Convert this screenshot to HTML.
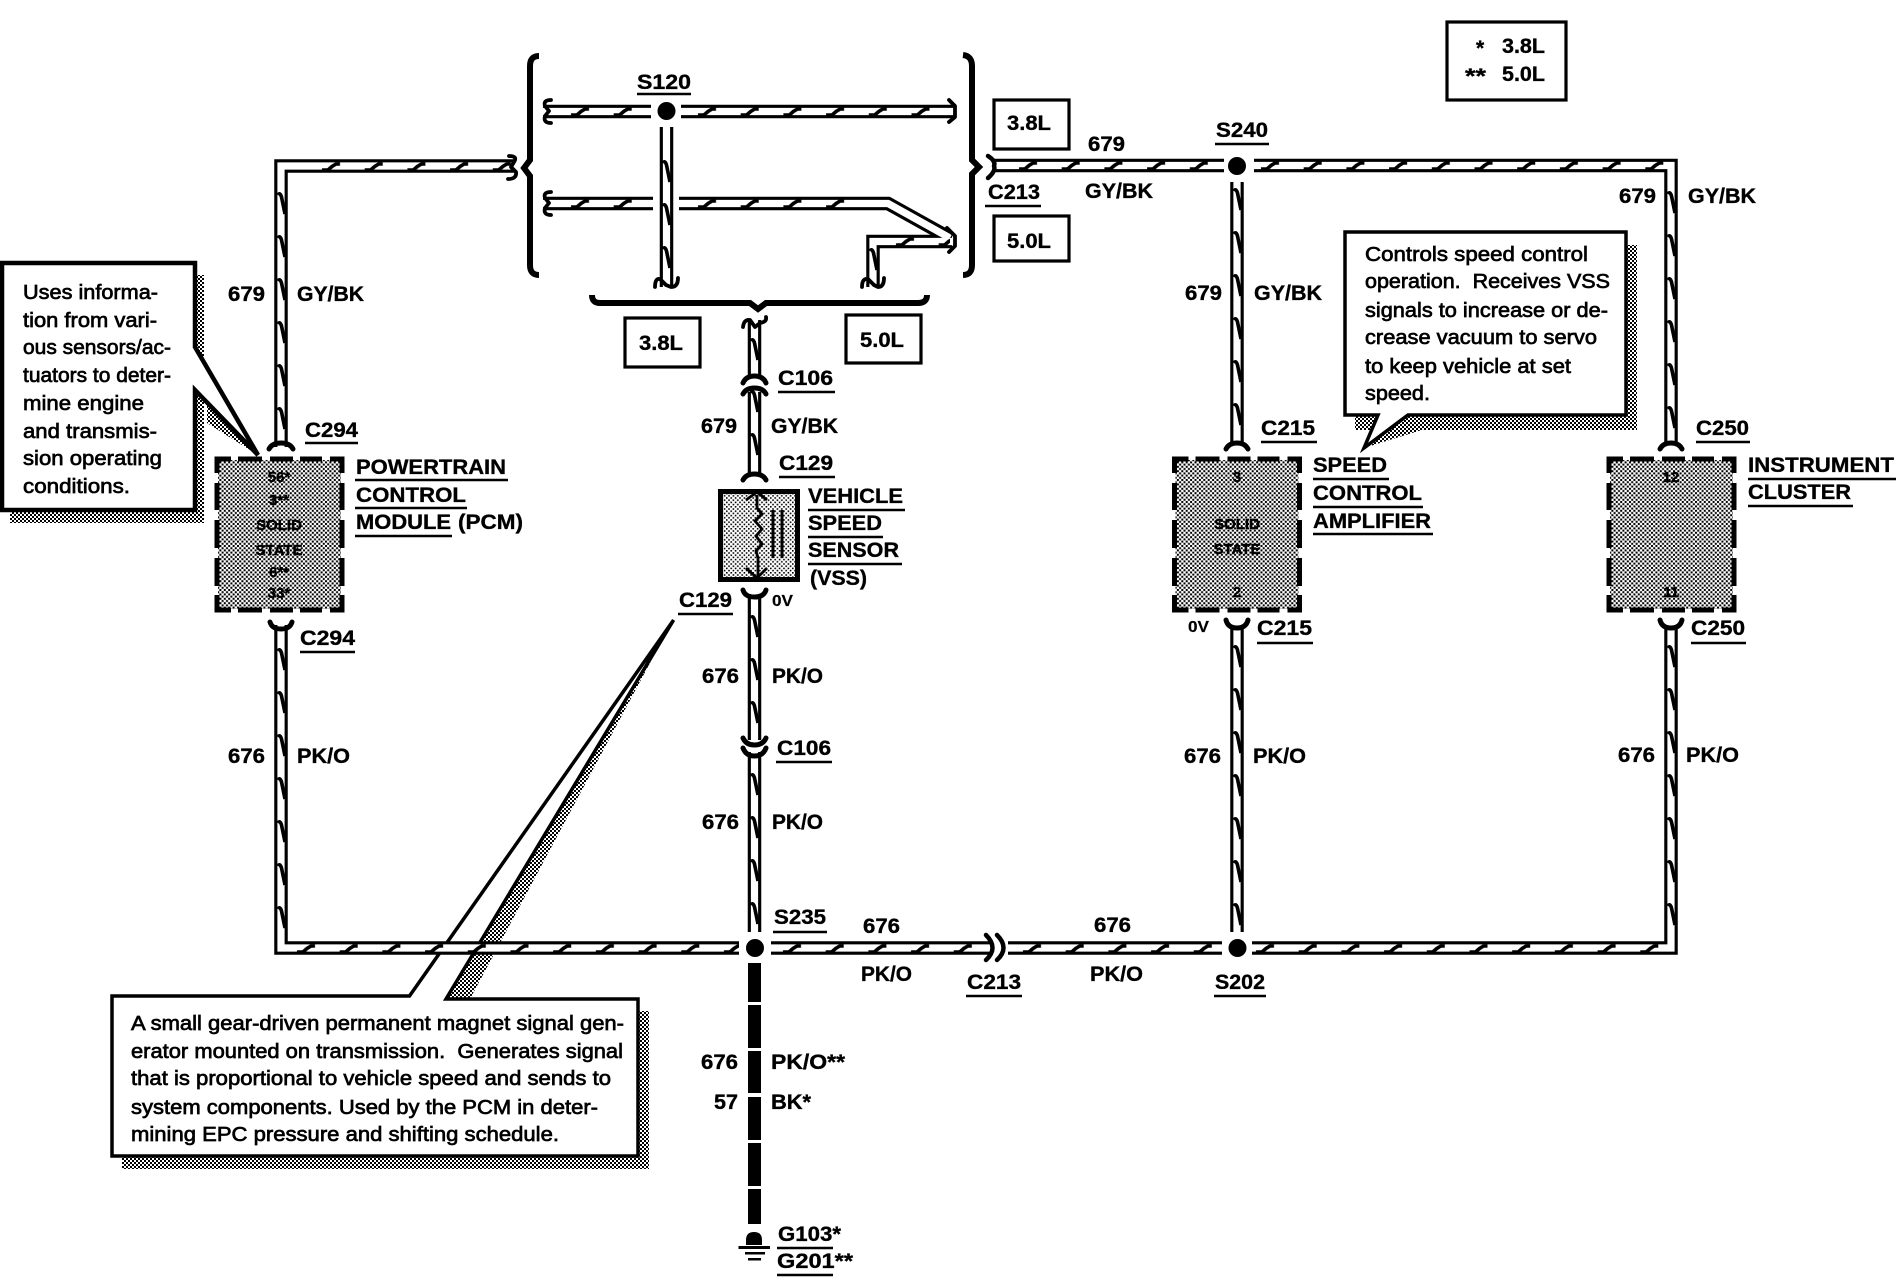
<!DOCTYPE html>
<html><head><meta charset="utf-8"><title>Speed control wiring</title>
<style>
html,body{margin:0;padding:0;background:#fff}
svg{display:block}
text{font-family:"Liberation Sans",sans-serif;fill:#000}
.b{font-weight:bold;font-size:21px;stroke:#000;stroke-width:.35}
.n{font-size:20.5px;stroke:#000;stroke-width:.7}
.s{font-weight:bold;font-size:15px;text-anchor:middle;fill:#000;stroke:#000;stroke-width:.4}
.wo{fill:none;stroke:#000;stroke-width:13.5;stroke-miterlimit:10}
.wi{fill:none;stroke:#fff;stroke-width:7.2;stroke-miterlimit:10}
.l{fill:none;stroke:#000;stroke-width:3.8;stroke-linecap:round;stroke-linejoin:round}
</style></head><body>
<svg xmlns="http://www.w3.org/2000/svg" width="1898" height="1280" viewBox="0 0 1898 1280">
<defs>
<pattern id="st" width="4" height="4" patternUnits="userSpaceOnUse"><rect width="2" height="2"/><rect x="2" y="2" width="2" height="2"/></pattern>
<pattern id="bx" width="4.4" height="4.4" patternUnits="userSpaceOnUse"><rect width="2" height="2"/><rect x="2.2" y="2.2" width="2" height="2"/></pattern>
<pattern id="lt" width="4.4" height="4.4" patternUnits="userSpaceOnUse"><rect width="1.6" height="1.6"/><rect x="2.2" y="2.2" width="1.6" height="1.6"/></pattern>
<pattern id="ph" width="42.7" height="11" patternUnits="userSpaceOnUse"><path d="M12,9 H18 L22,5.5 L26,3 H30" fill="none" stroke="#000" stroke-width="3.6"/></pattern>
<pattern id="pv" width="11" height="43" patternUnits="userSpaceOnUse"><path d="M2,12 Q4,9 5.5,14 L9,31" fill="none" stroke="#000" stroke-width="3.6"/></pattern>
<g id="box">
<rect x="3" y="3" width="123" height="149" fill="#fff"/>
<rect x="3" y="3" width="123" height="149" fill="url(#bx)"/>
<path d="M2,16 V2 H16 M23,2 H47 M55,2 H78 M85,2 H107 M115,2 H127 V16 M2,138 V153 H16 M23,153 H47 M55,153 H78 M85,153 H107 M115,153 H127 V138 M2,26 V53 M2,63 V91 M2,101 V129 M127,26 V53 M127,63 V91 M127,101 V129" fill="none" stroke="#000" stroke-width="5"/>
</g>
</defs>

<!-- callout shadows -->
<g fill="url(#st)">
<rect x="195" y="275" width="9" height="248"/><rect x="10" y="510" width="194" height="13"/>
<polygon points="195,390 258,455 207,423 207,400"/>
<rect x="1626" y="245" width="11" height="185"/><rect x="1355" y="415" width="282" height="15"/>
<polygon points="1408,415 1364,448 1425,429 1425,415"/>
<rect x="638" y="1011" width="11" height="158"/><rect x="122" y="1156" width="527" height="13"/>
<polygon points="446,999 673,620 470,999"/>
</g>
<path d="M2,263 H195 V347 L258,455 L195,390 V510 H2 Z" fill="#fff" stroke="#000" stroke-width="4.5"/>
<path d="M1345,232 H1626 V415 H1408 L1364,448 L1378,415 H1345 Z" fill="#fff" stroke="#000" stroke-width="3.5"/>
<path d="M112,996 H409.5 L673.6,620 L446,999 H638 V1156 H112 Z" fill="#fff" stroke="#000" stroke-width="3.5"/>

<!-- wires -->
<g class="wo"><path d="M281,447 V166 H515"/><path d="M543,111.5 H651"/><path d="M681,111.5 H955"/><path d="M666.5,127 V287"/><path d="M543,203.5 H653"/><path d="M873,287 V241.5 H952"/><path d="M679,203.5 H888 L950,238"/><path d="M754.5,320 V378"/><path d="M754.5,392 V477"/><path d="M754.5,594 V740"/><path d="M754.5,752 V932"/><path d="M281,625 V948 H739"/><path d="M771,948 H992"/><path d="M1008,948 H1222"/><path d="M1252,948 H1671 V625"/><path d="M1237,625 V932"/><path d="M1237,182 V445"/><path d="M994,165.5 H1224"/><path d="M1254,165.5 H1671 V445"/></g>
<g class="wi"><path d="M281,447 V166 H515"/><path d="M543,111.5 H651"/><path d="M681,111.5 H955"/><path d="M666.5,127 V287"/><path d="M543,203.5 H653"/><path d="M873,287 V241.5 H952"/><path d="M679,203.5 H888 L950,238"/><path d="M754.5,320 V378"/><path d="M754.5,392 V477"/><path d="M754.5,594 V740"/><path d="M754.5,752 V932"/><path d="M281,625 V948 H739"/><path d="M771,948 H992"/><path d="M1008,948 H1222"/><path d="M1252,948 H1671 V625"/><path d="M1237,625 V932"/><path d="M1237,182 V445"/><path d="M994,165.5 H1224"/><path d="M1254,165.5 H1671 V445"/></g>

<!-- horizontal ticks -->
<g fill="url(#ph)">
<rect transform="translate(559,106)" width="92" height="11"/>
<rect transform="translate(686,106)" width="262" height="11"/>
<rect transform="translate(559,198)" width="92" height="11"/>
<rect transform="translate(686,198)" width="175" height="11"/>
<rect transform="translate(884,236)" width="66" height="11"/>
<rect transform="translate(285,943)" width="454" height="11"/>
<rect transform="translate(771,943)" width="220" height="11"/>
<rect transform="translate(1011,943)" width="211" height="11"/>
<rect transform="translate(1244,943)" width="420" height="11"/>
<rect transform="translate(1007,160)" width="215" height="11"/>
<rect transform="translate(1249,160)" width="420" height="11"/>
<rect transform="translate(310,161)" width="205" height="11"/>
</g>
<!-- vertical ticks -->
<g fill="url(#pv)">
<rect transform="translate(276,183)" width="11" height="264"/>
<rect transform="translate(276,639)" width="11" height="301"/>
<rect transform="translate(661,151)" width="11" height="129"/>
<rect transform="translate(868,239)" width="11" height="43"/>
<rect transform="translate(749,329)" width="11" height="43"/>
<rect transform="translate(749,381)" width="11" height="86"/>
<rect transform="translate(749,606)" width="11" height="129"/>
<rect transform="translate(749,764)" width="11" height="172"/>
<rect transform="translate(1232,179)" width="11" height="258"/>
<rect transform="translate(1666,182)" width="11" height="258"/>
<rect transform="translate(1232,636)" width="11" height="301"/>
<rect transform="translate(1666,636)" width="11" height="301"/>
</g>

<!-- brackets -->
<g fill="none" stroke="#000" stroke-width="6">
<path d="M539,56 Q530,56 530,66 V160 L524,168 L530,176 V265 Q530,275 539,275"/>
<path d="M963,55 Q972,56 972,66 V160 L979,167 L972,174 V265 Q972,275 963,275"/>
<path d="M592,295 Q592,303 600,303 H750 L758,309 L766,303 H918 Q927,303 927,295"/>
</g>
<!-- wire ends -->
<g class="l">
<path d="M551,100 Q543,100 545,106 L549,111 L545,116 Q543,123 551,123"/>
<path d="M551,192 Q543,192 545,198 L549,203 L545,208 Q543,215 551,215"/>
<path d="M949,100 L955,106 V117 L949,122"/>
<path d="M947,228 L955,236 V246 L949,252"/>
<path d="M509,156 Q518,156 514,162 L511,167 L516,172 Q517,179 508,179"/>
<path d="M655,287 Q655,278 660,279 L666,285 L671,287 Q678,287 678,278"/>
<path d="M862,287 Q862,278 868,279 L874,285 L878,287 Q884,287 884,278"/>
<path d="M743,327 Q744,319 750,320 L755,327 L760,323 Q767,322 766,317"/>
<path d="M988,156 Q996,161 994,166 Q996,171 988,178" stroke-width="4.5"/>
<path d="M986,935 Q999,948 986,960" stroke-width="4.5"/>
<path d="M997,935 Q1010,948 997,960" stroke-width="4.5"/>
</g>
<!-- connector arches -->
<g fill="none" stroke="#000" stroke-width="5" stroke-linecap="round">
<path d="M269,449 Q272,443 281,443 Q290,443 293,449"/>
<path d="M1226,449 Q1229,443 1237,443 Q1245,443 1248,449"/>
<path d="M1660,449 Q1663,443 1671,443 Q1679,443 1682,449"/>
<path d="M743,383 Q746,376 754.5,376 Q763,376 766,383"/>
<path d="M743,394 Q746,388 754.5,388 Q763,388 766,394"/>
<path d="M743,480 Q746,474 754.5,474 Q763,474 766,480"/>
<path d="M270,622 Q272,629 281,629 Q290,629 292,622"/>
<path d="M1226,620 Q1228,628 1237,628 Q1246,628 1248,620"/>
<path d="M1660,620 Q1662,628 1671,628 Q1680,628 1682,620"/>
<path d="M743,590 Q745,597 754.5,597 Q764,597 766,590"/>
<path d="M743,738 Q746,745 754.5,745 Q763,745 766,738"/>
<path d="M743,748 Q746,756 754.5,756 Q763,756 766,748"/>
</g>

<!-- dots -->
<circle cx="666.5" cy="111" r="9"/><circle cx="1237" cy="166" r="9"/><circle cx="755" cy="948" r="9"/><circle cx="1237.5" cy="948" r="9"/>

<!-- thick bar + ground -->
<path d="M748,963h13v39h-13zM748,1005h13v43h-13zM748,1051h13v42h-13zM748,1097h13v43h-13zM748,1143h13v43h-13zM748,1189h13v35h-13z"/>
<path d="M746,1245 V1240 Q746,1232 754,1232 Q762,1232 762,1240 V1245 Z"/>
<path d="M738.5,1246h31.5v3h-31.5zM745,1252h20v2.5h-20zM748,1258h13v2.5h-13z"/>

<!-- boxes -->
<use href="#box" x="215" y="457"/><use href="#box" x="1172.5" y="457"/><use href="#box" x="1607" y="457"/>
<g fill="#fff" stroke="#000" stroke-width="3.2">
<rect x="625" y="318" width="75" height="49"/><rect x="846" y="315" width="75" height="48"/>
<rect x="994" y="100" width="75" height="49"/><rect x="994" y="216" width="75" height="45"/>
<rect x="1447" y="22" width="119" height="78"/>
</g>
<!-- VSS -->
<rect x="720.5" y="491.5" width="77" height="88" fill="#fff"/>
<rect x="720.5" y="491.5" width="77" height="88" fill="url(#lt)"/>
<rect x="720.5" y="491.5" width="77" height="88" fill="none" stroke="#000" stroke-width="5"/>
<path d="M757,495 V508 L762,514 L755,521 L762,529 L756,536 L762,544 L756,551 L758,558 V577 M746,500 L757,492 L767,500 M746,568 L757,578 L767,568" fill="none" stroke="#000" stroke-width="2.8"/>
<path d="M773,510 V558 M782,510 V558" fill="none" stroke="#000" stroke-width="3"/>

<!-- underlines -->
<path d="M637,94H691 M355,480H508M355,508H467M355,536H452 M305,443H358M300,652H355 M778,392H835M779,477H835M808,510H905M808,537H883M808,564H902M678,614H733M776,762H832 M773,932H827M966,996H1022M1214,996H1266M777,1248H833M777,1275H833 M1215,144H1269M985,206H1041 M1261,442H1317M1313,479H1389M1313,507H1423M1313,534H1433M1696,442H1750M1748,479H1896M1748,506H1853M1257,643H1313M1691,643H1746" fill="none" stroke="#000" stroke-width="2.6"/>

<!-- bold labels -->
<g class="b">
<text x="637" y="89" textLength="54" lengthAdjust="spacingAndGlyphs">S120</text>
<text x="1007" y="130" textLength="44" lengthAdjust="spacingAndGlyphs">3.8L</text>
<text x="1007" y="248" textLength="44" lengthAdjust="spacingAndGlyphs">5.0L</text>
<text x="639" y="350" textLength="44" lengthAdjust="spacingAndGlyphs">3.8L</text>
<text x="860" y="347" textLength="44" lengthAdjust="spacingAndGlyphs">5.0L</text>
<text x="1088" y="151" textLength="37" lengthAdjust="spacingAndGlyphs">679</text>
<text x="1216" y="137" textLength="52" lengthAdjust="spacingAndGlyphs">S240</text>
<text x="988" y="199" textLength="52" lengthAdjust="spacingAndGlyphs">C213</text>
<text x="1085" y="198" textLength="68" lengthAdjust="spacingAndGlyphs">GY/BK</text>
<text x="1476" y="55">*</text><text x="1502" y="53" textLength="43" lengthAdjust="spacingAndGlyphs">3.8L</text>
<text x="1465" y="83" textLength="21" lengthAdjust="spacingAndGlyphs">**</text><text x="1502" y="81" textLength="43" lengthAdjust="spacingAndGlyphs">5.0L</text>
<text x="1619" y="203" textLength="37" lengthAdjust="spacingAndGlyphs">679</text>
<text x="1688" y="203" textLength="68" lengthAdjust="spacingAndGlyphs">GY/BK</text>
<text x="228" y="301" textLength="37" lengthAdjust="spacingAndGlyphs">679</text>
<text x="297" y="301" textLength="67" lengthAdjust="spacingAndGlyphs">GY/BK</text>
<text x="1185" y="300" textLength="37" lengthAdjust="spacingAndGlyphs">679</text>
<text x="1254" y="300" textLength="68" lengthAdjust="spacingAndGlyphs">GY/BK</text>
<text x="305" y="437" textLength="53" lengthAdjust="spacingAndGlyphs">C294</text>
<text x="300" y="645" textLength="55" lengthAdjust="spacingAndGlyphs">C294</text>
<text x="356" y="474" textLength="150" lengthAdjust="spacingAndGlyphs">POWERTRAIN</text>
<text x="356" y="502" textLength="110" lengthAdjust="spacingAndGlyphs">CONTROL</text>
<text x="356" y="529" textLength="95" lengthAdjust="spacingAndGlyphs">MODULE</text>
<text x="458" y="529" textLength="65" lengthAdjust="spacingAndGlyphs">(PCM)</text>
<text x="778" y="385" textLength="55" lengthAdjust="spacingAndGlyphs">C106</text>
<text x="701" y="433" textLength="36" lengthAdjust="spacingAndGlyphs">679</text>
<text x="771" y="433" textLength="67" lengthAdjust="spacingAndGlyphs">GY/BK</text>
<text x="779" y="470" textLength="54" lengthAdjust="spacingAndGlyphs">C129</text>
<text x="808" y="503" textLength="95" lengthAdjust="spacingAndGlyphs">VEHICLE</text>
<text x="808" y="530" textLength="74" lengthAdjust="spacingAndGlyphs">SPEED</text>
<text x="808" y="557" textLength="91" lengthAdjust="spacingAndGlyphs">SENSOR</text>
<text x="810" y="585" textLength="57" lengthAdjust="spacingAndGlyphs">(VSS)</text>
<text x="679" y="607" textLength="53" lengthAdjust="spacingAndGlyphs">C129</text>
<text x="702" y="683" textLength="37" lengthAdjust="spacingAndGlyphs">676</text>
<text x="772" y="683" textLength="51" lengthAdjust="spacingAndGlyphs">PK/O</text>
<text x="777" y="755" textLength="54" lengthAdjust="spacingAndGlyphs">C106</text>
<text x="702" y="829" textLength="37" lengthAdjust="spacingAndGlyphs">676</text>
<text x="772" y="829" textLength="51" lengthAdjust="spacingAndGlyphs">PK/O</text>
<text x="228" y="763" textLength="37" lengthAdjust="spacingAndGlyphs">676</text>
<text x="297" y="763" textLength="53" lengthAdjust="spacingAndGlyphs">PK/O</text>
<text x="1184" y="763" textLength="37" lengthAdjust="spacingAndGlyphs">676</text>
<text x="1253" y="763" textLength="53" lengthAdjust="spacingAndGlyphs">PK/O</text>
<text x="1618" y="762" textLength="37" lengthAdjust="spacingAndGlyphs">676</text>
<text x="1686" y="762" textLength="53" lengthAdjust="spacingAndGlyphs">PK/O</text>
<text x="1261" y="435" textLength="54" lengthAdjust="spacingAndGlyphs">C215</text>
<text x="1313" y="472" textLength="74" lengthAdjust="spacingAndGlyphs">SPEED</text>
<text x="1313" y="500" textLength="109" lengthAdjust="spacingAndGlyphs">CONTROL</text>
<text x="1313" y="528" textLength="118" lengthAdjust="spacingAndGlyphs">AMPLIFIER</text>
<text x="1696" y="435" textLength="53" lengthAdjust="spacingAndGlyphs">C250</text>
<text x="1748" y="472" textLength="146" lengthAdjust="spacingAndGlyphs">INSTRUMENT</text>
<text x="1748" y="499" textLength="103" lengthAdjust="spacingAndGlyphs">CLUSTER</text>
<text x="1257" y="635" textLength="55" lengthAdjust="spacingAndGlyphs">C215</text>
<text x="1691" y="635" textLength="54" lengthAdjust="spacingAndGlyphs">C250</text>
<text x="774" y="924" textLength="52" lengthAdjust="spacingAndGlyphs">S235</text>
<text x="863" y="933" textLength="37" lengthAdjust="spacingAndGlyphs">676</text>
<text x="1094" y="932" textLength="37" lengthAdjust="spacingAndGlyphs">676</text>
<text x="861" y="981" textLength="51" lengthAdjust="spacingAndGlyphs">PK/O</text>
<text x="1090" y="981" textLength="53" lengthAdjust="spacingAndGlyphs">PK/O</text>
<text x="967" y="989" textLength="54" lengthAdjust="spacingAndGlyphs">C213</text>
<text x="1215" y="989" textLength="50" lengthAdjust="spacingAndGlyphs">S202</text>
<text x="701" y="1069" textLength="37" lengthAdjust="spacingAndGlyphs">676</text>
<text x="771" y="1069" textLength="74" lengthAdjust="spacingAndGlyphs">PK/O**</text>
<text x="714" y="1109" textLength="24" lengthAdjust="spacingAndGlyphs">57</text>
<text x="771" y="1109" textLength="40" lengthAdjust="spacingAndGlyphs">BK*</text>
<text x="778" y="1241" textLength="63" lengthAdjust="spacingAndGlyphs">G103*</text>
<text x="777" y="1268" textLength="76" lengthAdjust="spacingAndGlyphs">G201**</text>
</g>
<g font-weight="bold" font-size="16" style="stroke:#000;stroke-width:.2">
<text x="772" y="606" textLength="21" lengthAdjust="spacingAndGlyphs">0V</text>
<text x="1188" y="632" textLength="21" lengthAdjust="spacingAndGlyphs">0V</text>
</g>

<!-- box text -->
<text class="s" x="279" y="482">56*</text><text class="s" x="279" y="505">3**</text>
<text class="s" x="279" y="530">SOLID</text><text class="s" x="279" y="555">STATE</text>
<text class="s" x="279" y="577">6**</text><text class="s" x="279" y="598">33*</text>
<text class="s" x="1237" y="482">3</text><text class="s" x="1237" y="529">SOLID</text>
<text class="s" x="1237" y="554">STATE</text><text class="s" x="1237" y="597">2</text>
<text class="s" x="1671" y="482">12</text><text class="s" x="1671" y="597">11</text>

<!-- callout text -->
<g class="n">
<text x="23" y="299" textLength="135" lengthAdjust="spacingAndGlyphs">Uses informa-</text>
<text x="23" y="327" textLength="134" lengthAdjust="spacingAndGlyphs">tion from vari-</text>
<text x="23" y="354" textLength="148" lengthAdjust="spacingAndGlyphs">ous sensors/ac-</text>
<text x="23" y="382" textLength="148" lengthAdjust="spacingAndGlyphs">tuators to deter-</text>
<text x="23" y="410" textLength="121" lengthAdjust="spacingAndGlyphs">mine engine</text>
<text x="23" y="438" textLength="134" lengthAdjust="spacingAndGlyphs">and transmis-</text>
<text x="23" y="465" textLength="139" lengthAdjust="spacingAndGlyphs">sion operating</text>
<text x="23" y="493" textLength="107" lengthAdjust="spacingAndGlyphs">conditions.</text>

<text x="1365" y="261" textLength="223" lengthAdjust="spacingAndGlyphs">Controls speed control</text>
<text x="1365" y="288" textLength="245" lengthAdjust="spacingAndGlyphs">operation.&#160; Receives VSS</text>
<text x="1365" y="317" textLength="243" lengthAdjust="spacingAndGlyphs">signals to increase or de-</text>
<text x="1365" y="344" textLength="232" lengthAdjust="spacingAndGlyphs">crease vacuum to servo</text>
<text x="1365" y="373" textLength="206" lengthAdjust="spacingAndGlyphs">to keep vehicle at set</text>
<text x="1365" y="400" textLength="65" lengthAdjust="spacingAndGlyphs">speed.</text>

<text x="131" y="1030" textLength="493" lengthAdjust="spacingAndGlyphs">A small gear-driven permanent magnet signal gen-</text>
<text x="131" y="1058" textLength="492" lengthAdjust="spacingAndGlyphs">erator mounted on transmission.&#160; Generates signal</text>
<text x="131" y="1085" textLength="480" lengthAdjust="spacingAndGlyphs">that is proportional to vehicle speed and sends to</text>
<text x="131" y="1114" textLength="467" lengthAdjust="spacingAndGlyphs">system components. Used by the PCM in deter-</text>
<text x="131" y="1141" textLength="428" lengthAdjust="spacingAndGlyphs">mining EPC pressure and shifting schedule.</text>
</g>
</svg>
</body></html>
